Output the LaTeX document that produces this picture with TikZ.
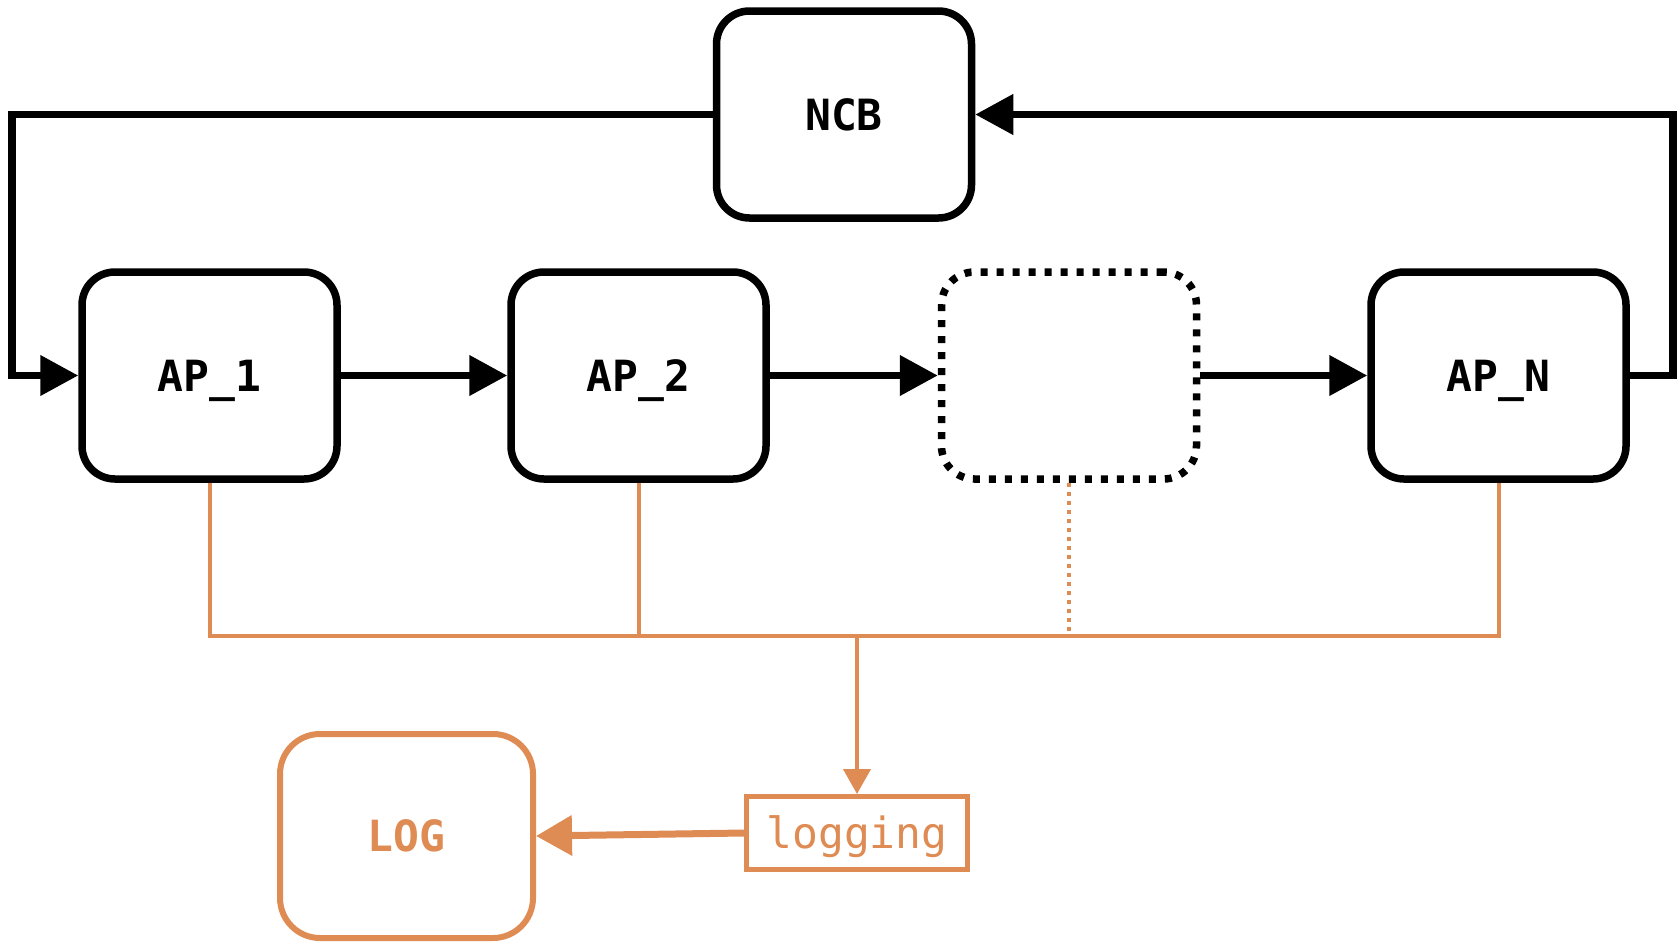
\documentclass[tikz,border=0pt]{standalone}
\usepackage{fontspec}
\newfontfamily\monof{DejaVu Sans Mono}
\usetikzlibrary{arrows.meta}
\definecolor{orng}{RGB}{222,139,84}
\begin{document}
\begin{tikzpicture}[x=1pt,y=-1pt,
  box/.style={draw, line width=7.5pt, rounded corners=33pt, minimum width=255pt,
    minimum height=207pt, inner sep=0pt, text depth=0pt,
    font=\monof\bfseries\fontsize{43}{43}\selectfont},
  dotbox/.style={box, dash pattern=on 7pt off 9pt},
  blk/.style={line width=7.5pt, -{Triangle[length=38pt,width=39pt]}},
  obus/.style={orng, line width=4pt},
  odot/.style={orng, line width=4pt, dash pattern=on 4pt off 5pt},
  oarrow/.style={orng, line width=4pt, -{Triangle[length=25pt,width=27pt]}},
  obig/.style={orng, line width=7pt, -{Triangle[length=36pt,width=39pt]}},
  logbox/.style={draw=orng, text=orng, line width=6pt, rounded corners=40pt,
    minimum width=253pt, minimum height=204pt, inner sep=0pt,
    font=\monof\bfseries\fontsize{43}{43}\selectfont},
  logging/.style={draw=orng, text=orng, line width=5pt, minimum width=221pt,
    minimum height=73pt, inner sep=0pt, text height=41pt, text depth=10pt,
    font=\monof\fontsize{43}{43}\selectfont}]
\useasboundingbox (0,0) rectangle (1678,943);

\node[box] (NCB) at (844,114.5) {NCB};
\node[box] (AP1) at (209.5,375.5) {AP\_1};
\node[box] (AP2) at (638.5,375.5) {AP\_2};
\node[dotbox] (DOT) at (1069,375.5) {};
\node[box] (APN) at (1498.5,375.5) {AP\_N};
\node[logging] (LG) at (857,833) {logging};
\node[logbox] (LOG) at (406.5,836) {LOG};

\coordinate (L) at (12,375.5);
\coordinate (R) at (1673,375.5);
\coordinate (bus) at (857,636);

\draw[blk] (NCB.west) -| (L) -- (AP1.west);
\draw[blk] (AP1.east) -- (AP2.west);
\draw[blk] (AP2.east) -- (DOT.west);
\draw[blk] (DOT.east) -- (APN.west);
\draw[blk] (APN.east) -- (R) |- (NCB.east);

\draw[obus] (AP1.south) -- (AP1.south |- bus) -- (APN.south |- bus) -- (APN.south);
\draw[obus] (AP2.south) -- (AP2.south |- bus);
\draw[odot] (DOT.south) -- (DOT.south |- bus);
\draw[oarrow] (bus) -- (LG.north);
\draw[obig] (LG.west) -- (LOG.east);
\end{tikzpicture}
\end{document}
